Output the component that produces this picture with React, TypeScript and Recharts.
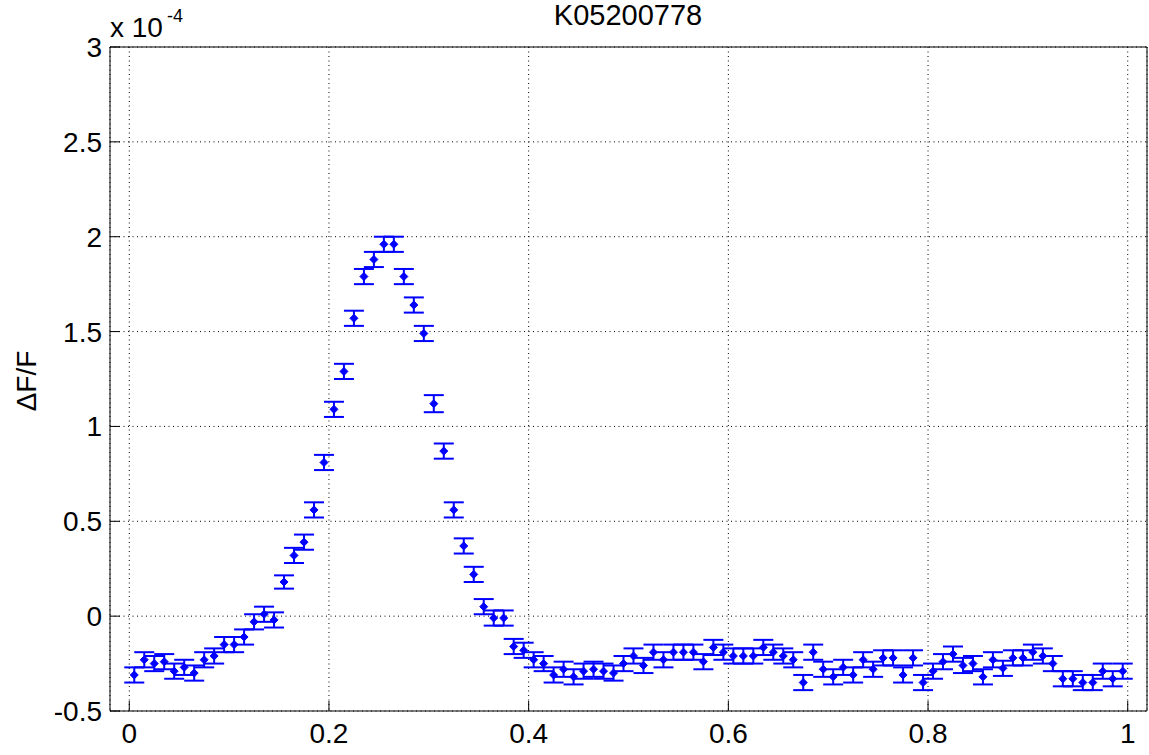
import React from 'react';
import { ScatterChart, Scatter, XAxis, YAxis, CartesianGrid, ErrorBar } from 'recharts';

const title = 'K05200778';
const yLabel = 'ΔF/F';
const exponentBase = 'x 10';
const exponentPower = '-4';

const xTicks = [0, 0.2, 0.4, 0.6, 0.8, 1];
const yTicks = [-0.5, 0, 0.5, 1, 1.5, 2, 2.5, 3];

const phase = [
  0.005, 0.015, 0.025, 0.035, 0.045, 0.055, 0.065, 0.075, 0.085, 0.095,
  0.105, 0.115, 0.125, 0.135, 0.145, 0.155, 0.165, 0.175, 0.185, 0.195,
  0.205, 0.215, 0.225, 0.235, 0.245, 0.255, 0.265, 0.275, 0.285, 0.295,
  0.305, 0.315, 0.325, 0.335, 0.345, 0.355, 0.365, 0.375, 0.385, 0.395,
  0.405, 0.415, 0.425, 0.435, 0.445, 0.455, 0.465, 0.475, 0.485, 0.495,
  0.505, 0.515, 0.525, 0.535, 0.545, 0.555, 0.565, 0.575, 0.585, 0.595,
  0.605, 0.615, 0.625, 0.635, 0.645, 0.655, 0.665, 0.675, 0.685, 0.695,
  0.705, 0.715, 0.725, 0.735, 0.745, 0.755, 0.765, 0.775, 0.785, 0.795,
  0.805, 0.815, 0.825, 0.835, 0.845, 0.855, 0.865, 0.875, 0.885, 0.895,
  0.905, 0.915, 0.925, 0.935, 0.945, 0.955, 0.965, 0.975, 0.985, 0.995,
];

// ΔF/F in units of 1e-4
const deltaF = [
  -0.31, -0.23, -0.25, -0.24, -0.29, -0.27, -0.30, -0.23, -0.21, -0.15,
  -0.15, -0.11, -0.03, 0.01, -0.02, 0.18, 0.32, 0.39, 0.56, 0.81,
  1.09, 1.29, 1.57, 1.79, 1.88, 1.96, 1.96, 1.79, 1.64, 1.49,
  1.12, 0.87, 0.56, 0.37, 0.22, 0.05, -0.01, -0.01, -0.16, -0.18,
  -0.23, -0.25, -0.31, -0.28, -0.32, -0.29, -0.28, -0.29, -0.30, -0.25,
  -0.21, -0.26, -0.19, -0.23, -0.19, -0.19, -0.19, -0.24, -0.165, -0.19,
  -0.21, -0.21, -0.21, -0.165, -0.19, -0.21, -0.23, -0.35, -0.19, -0.28,
  -0.32, -0.27, -0.31, -0.23, -0.28, -0.22, -0.22, -0.31, -0.22, -0.35,
  -0.29, -0.24, -0.20, -0.26, -0.25, -0.32, -0.23, -0.275, -0.22, -0.22,
  -0.19, -0.21, -0.25, -0.33, -0.33, -0.35, -0.35, -0.29, -0.33, -0.29,
];

const errors = [
  0.04, 0.04, 0.04, 0.04, 0.04, 0.04, 0.04, 0.04, 0.04, 0.04,
  0.04, 0.04, 0.04, 0.04, 0.04, 0.035, 0.04, 0.04, 0.04, 0.04,
  0.04, 0.04, 0.04, 0.04, 0.04, 0.04, 0.04, 0.04, 0.04, 0.04,
  0.045, 0.04, 0.04, 0.04, 0.04, 0.04, 0.04, 0.04, 0.04, 0.04,
  0.04, 0.04, 0.04, 0.04, 0.04, 0.04, 0.04, 0.04, 0.04, 0.04,
  0.04, 0.04, 0.04, 0.04, 0.04, 0.04, 0.04, 0.04, 0.04, 0.04,
  0.04, 0.04, 0.04, 0.04, 0.04, 0.04, 0.04, 0.04, 0.04, 0.04,
  0.04, 0.04, 0.04, 0.04, 0.04, 0.04, 0.04, 0.04, 0.04, 0.04,
  0.04, 0.04, 0.04, 0.04, 0.04, 0.04, 0.04, 0.04, 0.04, 0.04,
  0.04, 0.04, 0.04, 0.04, 0.04, 0.04, 0.04, 0.04, 0.04, 0.04,
];

const data = phase.map((p, i) => ({ phase: p, value: deltaF[i], err: errors[i] }));

const FONT = '"Liberation Sans", Arial, Helvetica, sans-serif';
const BLUE = '#0000ff';
const X_DOMAIN: [number, number] = [-0.0193, 1.0193];
const Y_DOMAIN: [number, number] = [-0.5, 3];

const Diamond = (props: any) => {
  const { cx, cy } = props;
  if (cx == null || cy == null) return null;
  const s = 4;
  return (
    <polygon
      points={`${cx},${cy - s} ${cx + s},${cy} ${cx},${cy + s} ${cx - s},${cy}`}
      fill={BLUE}
      stroke={BLUE}
      strokeWidth={1}
    />
  );
};

const Nothing = () => null;

const tickStyle = { fill: '#000', fontSize: 28, fontFamily: FONT };

export default function App() {
  return (
    <div style={{ position: 'absolute', left: 0, top: 0, width: 1149, height: 755, background: '#fff' }}>
      <ScatterChart
        width={1149}
        height={755}
        margin={{ top: 46, right: 1, bottom: 14, left: 50 }}
      >
        <CartesianGrid
          xAxisId="main"
          yAxisId="main"
          stroke="#000"
          strokeDasharray="1 3.5"
          strokeWidth={1}
        />
        <XAxis
          type="number"
          dataKey="phase"
          xAxisId="main"
          domain={X_DOMAIN}
          ticks={xTicks}
          allowDataOverflow
          height={30}
          stroke="#000"
          tickSize={-10}
          tickMargin={22}
          tickLine={{ stroke: '#000' }}
          tick={tickStyle}
          tickFormatter={(v: number) => String(v)}
          interval={0}
        />
        <XAxis
          type="number"
          dataKey="phase"
          xAxisId="top"
          orientation="top"
          domain={X_DOMAIN}
          ticks={xTicks}
          allowDataOverflow
          height={1}
          stroke="#000"
          tickSize={-10}
          tick={false}
          tickLine={{ stroke: '#000' }}
          interval={0}
        />
        <YAxis
          type="number"
          dataKey="value"
          yAxisId="main"
          domain={Y_DOMAIN}
          ticks={yTicks}
          allowDataOverflow
          width={60}
          stroke="#000"
          tickSize={-10}
          tickMargin={18}
          tickLine={{ stroke: '#000' }}
          tick={tickStyle}
          tickFormatter={(v: number) => String(v)}
          interval={0}
        />
        <YAxis
          type="number"
          dataKey="value"
          yAxisId="right"
          orientation="right"
          domain={Y_DOMAIN}
          ticks={yTicks}
          allowDataOverflow
          width={1}
          stroke="#000"
          tickSize={-10}
          tick={false}
          tickLine={{ stroke: '#000' }}
          interval={0}
        />
        <Scatter
          data={data}
          xAxisId="top"
          yAxisId="right"
          shape={<Nothing />}
          isAnimationActive={false}
        />
        <Scatter
          data={data}
          xAxisId="main"
          yAxisId="main"
          fill={BLUE}
          shape={<Diamond />}
          isAnimationActive={false}
        >
          <ErrorBar dataKey="err" direction="y" width={10} stroke={BLUE} strokeWidth={2} />
        </Scatter>
      </ScatterChart>
      <svg
        width={1149}
        height={755}
        style={{ position: 'absolute', left: 0, top: 0, pointerEvents: 'none' }}
      >
        <text x={628} y={25} textAnchor="middle" fontFamily={FONT} fontSize={29} fill="#000">
          {title}
        </text>
        <text x={110} y={37} fontFamily={FONT} fontSize={28} fill="#000">
          {exponentBase}
        </text>
        <text x={167} y={22} fontFamily={FONT} fontSize={18} fill="#000">
          {exponentPower}
        </text>
        <text
          x={36}
          y={381}
          textAnchor="middle"
          fontFamily={FONT}
          fontSize={28}
          fill="#000"
          transform="rotate(-90, 36, 381)"
        >
          {yLabel}
        </text>
      </svg>
    </div>
  );
}
